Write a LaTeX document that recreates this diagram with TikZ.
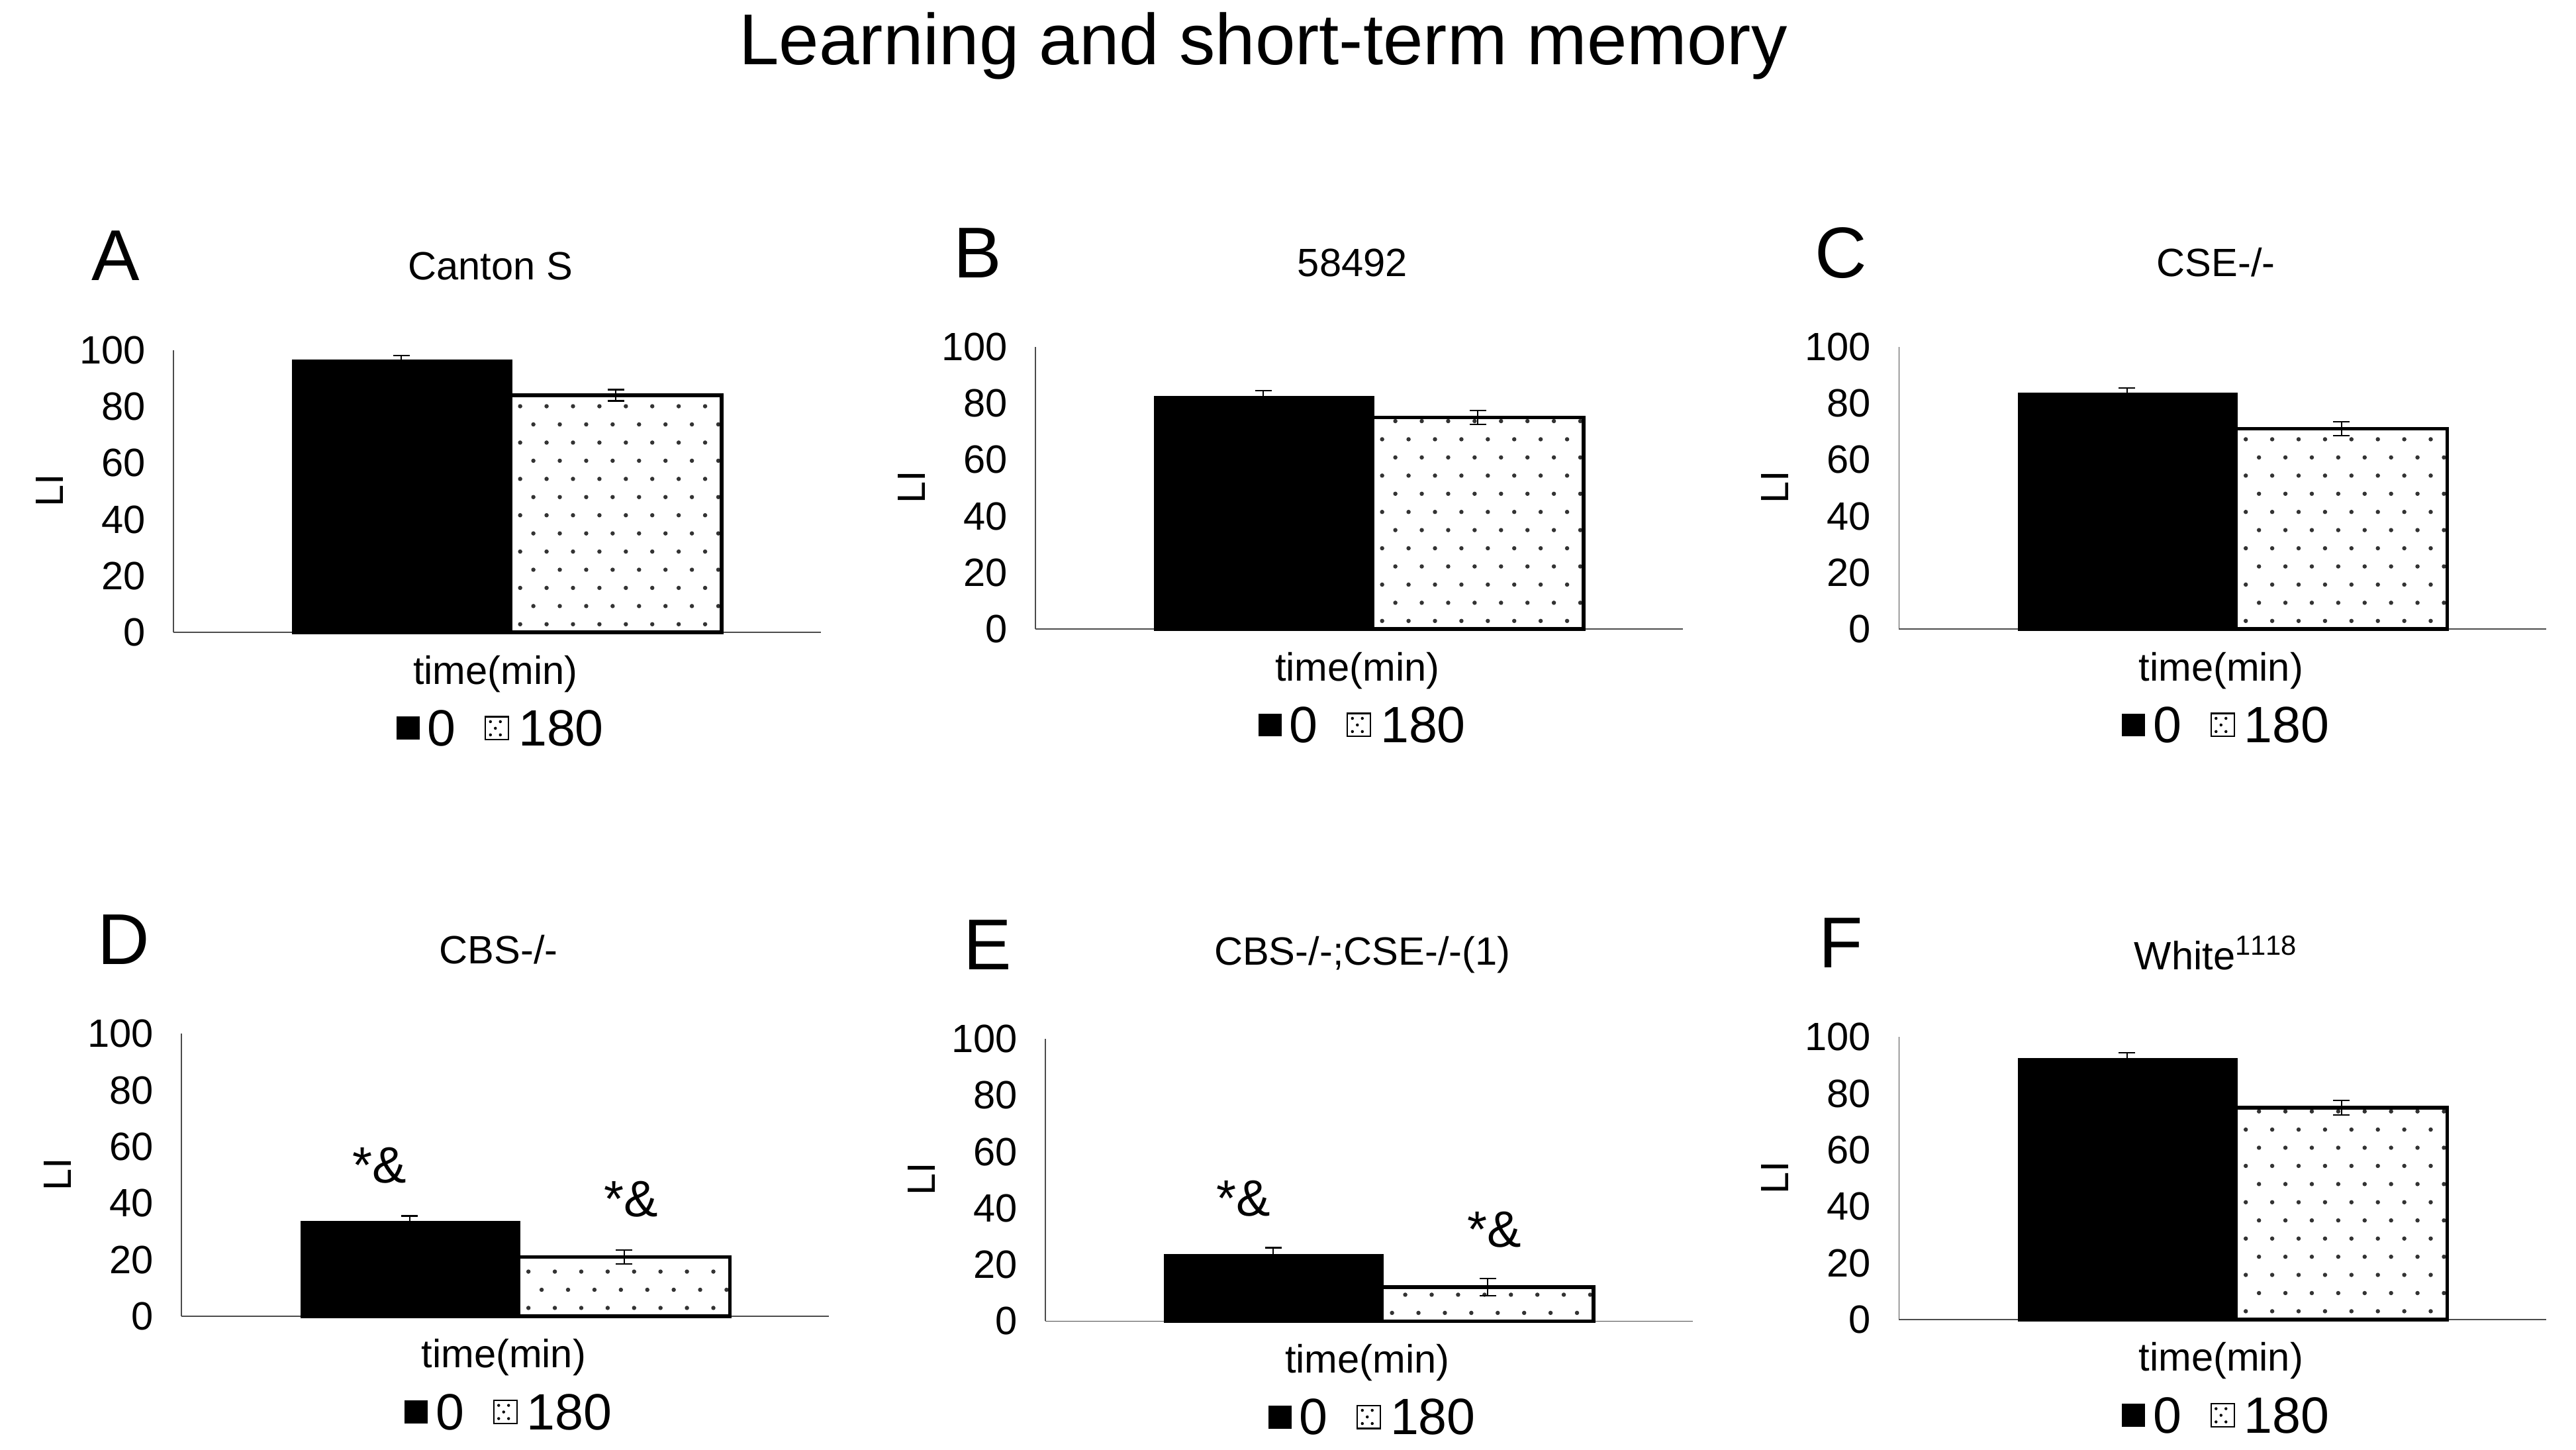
\documentclass[tikz,border=0pt]{standalone}
\usepackage{fontspec}
\setmainfont{Liberation Sans}
\begin{document}
\begin{tikzpicture}[x=0.025cm,y=-0.025cm,
  tick/.style={anchor=east,font=\fontsize{17}{17}\selectfont},
  lab/.style={font=\fontsize{17}{17}\selectfont},
  leg/.style={font=\fontsize{22}{22}\selectfont},
  letter/.style={font=\fontsize{31}{31}\selectfont},
  bar/.style={draw=black,line width=1.6pt}]
\useasboundingbox (0,0) rectangle (1560,878);
\node[font=\fontsize{31}{31}\selectfont] (title) at (765,28) {Learning and short-term memory};
% #1 ox #2 oy #3 letter #4 title #5 v1 #6 v2 #7 e #8 stars(1/0) #9 name
\newcommand\mypanel[9]{%
 \begin{scope}[shift={(#1,#2)}]
  \draw[gray!60!black,line width=0.5pt] (0,0) -- (392,0);
  \draw[gray!60!black,line width=0.5pt] (0,0) -- (0,-171);
  \foreach \v in {0,20,...,100}{\node[tick] at (-12,-1.71*\v) {\v};}
  \node[lab,rotate=90] (li#9) at (-75,-86) {LI};
  \node[letter] (let#9) at (-35,-228) {#3};
  \node[lab] (tt#9) at (192,-222) {#4};
  \node[lab] (tm#9) at (195,25) {time(min)};
  \fill[black] (73,0) rectangle (204,-1.71*#5);
  \draw[bar] (73,0) rectangle (204,-1.71*#5);
  \begin{scope}
   \clip (204,0) rectangle (332,-1.71*#6);
   \foreach \j in {0,...,15}{\foreach \i in {0,...,8}{
     \pgfmathsetmacro\xx{210+16*\i+8*mod(\j,2)}
     \fill[black!80] (\xx,-5-11*\j) circle (1.3);}}
  \end{scope}
  \draw[bar] (204,0) rectangle (332,-1.71*#6);
  \draw[line width=0.6pt] (138,-1.71*#5+1.71*#7) -- (138,-1.71*#5-1.71*#7)
     (133,-1.71*#5-1.71*#7) -- (143,-1.71*#5-1.71*#7);
  \draw[line width=0.6pt] (268,-1.71*#6+1.71*#7) -- (268,-1.71*#6-1.71*#7)
     (263,-1.71*#6-1.71*#7) -- (273,-1.71*#6-1.71*#7)
     (263,-1.71*#6+1.71*#7) -- (273,-1.71*#6+1.71*#7);
  \ifnum#8=1
   \node[leg] (s1#9) at (120,-1.71*#5-35) {*\&};
   \node[leg] (s2#9) at (272,-1.71*#6-35) {*\&};
  \fi
  \fill (135,51) rectangle (149,65);
  \node[leg,anchor=west] (l0#9) at (149,58) {0};
  \draw[line width=0.6pt] (189,51) rectangle (203,65);
  \foreach \a/\b in {192/54,198/54,195/58,192/62,198/62}{\fill (\a,\b) circle (0.9);}
  \node[leg,anchor=west] (l1#9) at (204,58) {180};
 \end{scope}}
\mypanel{105}{383}{A}{Canton S}{96}{84}{2}{0}{a}
\mypanel{627}{381}{B}{58492}{82}{75}{2.5}{0}{b}
\mypanel{1150}{381}{C}{CSE-/-}{83}{71}{2.5}{0}{c}
\mypanel{110}{797}{D}{CBS-/-}{33}{21}{2.5}{1}{d}
\mypanel{633}{800}{E}{CBS-/-;CSE-/-(1)}{23}{12}{3}{1}{e}
\mypanel{1150}{799}{F}{White$^{\mathrm{1118}}$}{92}{75}{2.5}{0}{f}
\end{tikzpicture}
\end{document}
